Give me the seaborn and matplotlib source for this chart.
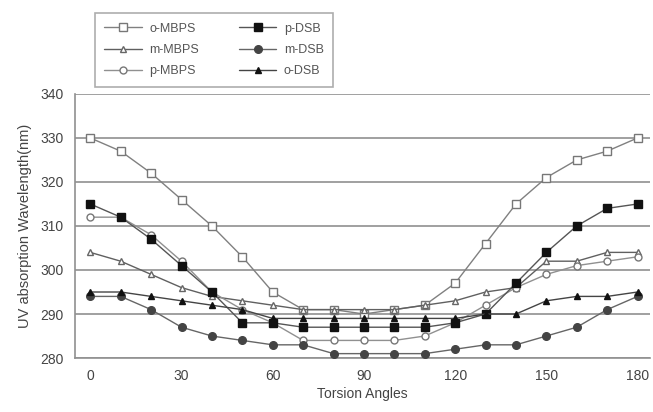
import numpy as np
import pandas as pd
import matplotlib
matplotlib.use("Agg")
import matplotlib.pyplot as plt
import seaborn as sns

angles = list(range(0, 181, 10))
o_mbps = [330, 327, 322, 316, 310, 303, 295, 291, 291, 290, 291, 292, 297, 306, 315, 321, 325, 327, 330]
m_mbps = [304, 302, 299, 296, 294, 293, 292, 291, 291, 291, 291, 292, 293, 295, 296, 302, 302, 304, 304]
p_mbps = [312, 312, 308, 302, 295, 291, 288, 284, 284, 284, 284, 285, 288, 292, 296, 299, 301, 302, 303]
p_dsb = [315, 312, 307, 301, 295, 288, 288, 287, 287, 287, 287, 287, 288, 290, 297, 304, 310, 314, 315]
m_dsb = [294, 294, 291, 287, 285, 284, 283, 283, 281, 281, 281, 281, 282, 283, 283, 285, 287, 291, 294]
o_dsb = [295, 295, 294, 293, 292, 291, 289, 289, 289, 289, 289, 289, 289, 290, 290, 293, 294, 294, 295]

names = ["o-MBPS", "m-MBPS", "p-MBPS", "p-DSB", "m-DSB", "o-DSB"]
series = [o_mbps, m_mbps, p_mbps, p_dsb, m_dsb, o_dsb]

styles = {
    "o-MBPS": dict(marker="s", mfc="white", mec="#777777", color="#808080", ms=5.5),
    "m-MBPS": dict(marker="^", mfc="white", mec="#666666", color="#606060", ms=5),
    "p-MBPS": dict(marker="o", mfc="white", mec="#777777", color="#909090", ms=5),
    "p-DSB": dict(marker="s", mfc="#111111", mec="#111111", color="#555555", ms=5.5),
    "m-DSB": dict(marker="o", mfc="#444444", mec="#444444", color="#666666", ms=5.5),
    "o-DSB": dict(marker="^", mfc="#111111", mec="#111111", color="#444444", ms=5),
}

rows = []
for n, vals in zip(names, series):
    for a, v in zip(angles, vals):
        rows.append({"angle": a, "wl": v, "series": n})
df = pd.DataFrame(rows)

sns.set_style("white")
plt.rcParams["font.family"] = ["Liberation Sans", "DejaVu Sans"]

fig = plt.figure(figsize=(6.53, 4.12), dpi=100)
ax = fig.add_axes([0.115, 0.131, 0.88, 0.641])

for n in names:
    st = styles[n]
    sns.lineplot(data=df[df["series"] == n], x="angle", y="wl", ax=ax,
                 color=st["color"], marker=st["marker"], markersize=st["ms"],
                 markerfacecolor=st["mfc"], markeredgecolor=st["mec"],
                 markeredgewidth=1.0, linewidth=1.0, label=n, zorder=3)

ax.set_xlim(-5, 184)
ax.set_ylim(280, 340)
ax.set_xticks(range(0, 181, 30))
ax.set_xticks(range(0, 181, 10), minor=True)
ax.set_yticks(range(280, 341, 10))
ax.yaxis.grid(True, color="#a0a0a0", linewidth=1.4)
ax.xaxis.grid(False)
ax.set_axisbelow(True)
for s in ["top", "right"]:
    ax.spines[s].set_visible(False)
for s in ["left", "bottom"]:
    ax.spines[s].set_color("#909090")
    ax.spines[s].set_linewidth(1.2)
ax.tick_params(axis="x", which="both", direction="in", length=3, color="#aaaaaa",
               labelsize=10, labelcolor="#444444", pad=8)
ax.tick_params(axis="y", length=0, labelsize=10, labelcolor="#444444", pad=8)
ax.set_xlabel("Torsion Angles", fontsize=10, color="#444444", labelpad=3)
ax.set_ylabel("UV absorption Wavelength(nm)", fontsize=10.5, color="#444444", labelpad=6)

ax.get_legend().remove()
handles, labels = ax.get_legend_handles_labels()
leg = fig.legend(handles, labels, ncol=2, loc="upper left",
                 bbox_to_anchor=(0.145, 0.968), fontsize=9, frameon=True,
                 fancybox=False, edgecolor="#999999", handlelength=3.0,
                 columnspacing=3.2, labelspacing=0.75, borderpad=0.75,
                 borderaxespad=0, handletextpad=0.6)
leg.get_frame().set_linewidth(1.2)
for t in leg.get_texts():
    t.set_color("#555555")

fig.savefig("out.png", dpi=100)
